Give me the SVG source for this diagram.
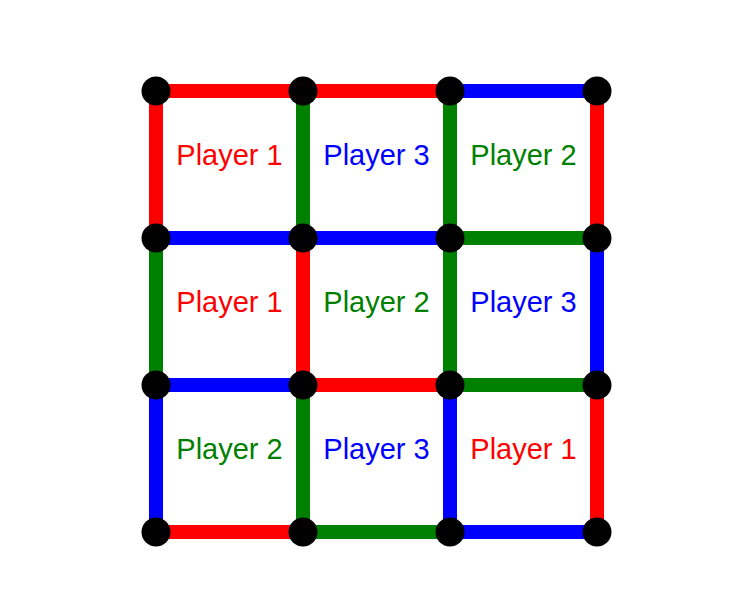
<svg xmlns="http://www.w3.org/2000/svg" width="750" height="616" viewBox="0 0 750 616">
<style>
.e{stroke-width:14;fill:none}
.r{stroke:#ff0000}.g{stroke:#008000}.b{stroke:#0000ff}
.d{fill:#000}
text{font-family:"Liberation Sans",Arial,sans-serif;font-size:29px;text-anchor:middle}
.tr{fill:#ff0000}.tg{fill:#008000}.tb{fill:#0000ff}
</style>
<rect width="750" height="616" fill="#fff"/>
<g id="connectors">
<line class="e r" x1="156" y1="91" x2="303" y2="91"/>
<line class="e r" x1="303" y1="91" x2="450" y2="91"/>
<line class="e b" x1="450" y1="91" x2="597" y2="91"/>
<line class="e b" x1="156" y1="238" x2="303" y2="238"/>
<line class="e b" x1="303" y1="238" x2="450" y2="238"/>
<line class="e g" x1="450" y1="238" x2="597" y2="238"/>
<line class="e b" x1="156" y1="385" x2="303" y2="385"/>
<line class="e r" x1="303" y1="385" x2="450" y2="385"/>
<line class="e g" x1="450" y1="385" x2="597" y2="385"/>
<line class="e r" x1="156" y1="532" x2="303" y2="532"/>
<line class="e g" x1="303" y1="532" x2="450" y2="532"/>
<line class="e b" x1="450" y1="532" x2="597" y2="532"/>
<line class="e r" x1="156" y1="91" x2="156" y2="238"/>
<line class="e g" x1="156" y1="238" x2="156" y2="385"/>
<line class="e b" x1="156" y1="385" x2="156" y2="532"/>
<line class="e g" x1="303" y1="91" x2="303" y2="238"/>
<line class="e r" x1="303" y1="238" x2="303" y2="385"/>
<line class="e g" x1="303" y1="385" x2="303" y2="532"/>
<line class="e g" x1="450" y1="91" x2="450" y2="238"/>
<line class="e g" x1="450" y1="238" x2="450" y2="385"/>
<line class="e b" x1="450" y1="385" x2="450" y2="532"/>
<line class="e r" x1="597" y1="91" x2="597" y2="238"/>
<line class="e b" x1="597" y1="238" x2="597" y2="385"/>
<line class="e r" x1="597" y1="385" x2="597" y2="532"/>
</g>
<g id="nodes">
<circle id="n00" class="d" cx="156" cy="91" r="14.5"/>
<circle id="n01" class="d" cx="303" cy="91" r="14.5"/>
<circle id="n02" class="d" cx="450" cy="91" r="14.5"/>
<circle id="n03" class="d" cx="597" cy="91" r="14.5"/>
<circle id="n10" class="d" cx="156" cy="238" r="14.5"/>
<circle id="n11" class="d" cx="303" cy="238" r="14.5"/>
<circle id="n12" class="d" cx="450" cy="238" r="14.5"/>
<circle id="n13" class="d" cx="597" cy="238" r="14.5"/>
<circle id="n20" class="d" cx="156" cy="385" r="14.5"/>
<circle id="n21" class="d" cx="303" cy="385" r="14.5"/>
<circle id="n22" class="d" cx="450" cy="385" r="14.5"/>
<circle id="n23" class="d" cx="597" cy="385" r="14.5"/>
<circle id="n30" class="d" cx="156" cy="532" r="14.5"/>
<circle id="n31" class="d" cx="303" cy="532" r="14.5"/>
<circle id="n32" class="d" cx="450" cy="532" r="14.5"/>
<circle id="n33" class="d" cx="597" cy="532" r="14.5"/>
</g>
<g id="labels">
<text class="tr" x="229.5" y="165">Player 1</text>
<text class="tb" x="376.5" y="165">Player 3</text>
<text class="tg" x="523.5" y="165">Player 2</text>
<text class="tr" x="229.5" y="312">Player 1</text>
<text class="tg" x="376.5" y="312">Player 2</text>
<text class="tb" x="523.5" y="312">Player 3</text>
<text class="tg" x="229.5" y="459">Player 2</text>
<text class="tb" x="376.5" y="459">Player 3</text>
<text class="tr" x="523.5" y="459">Player 1</text>
</g>
</svg>
